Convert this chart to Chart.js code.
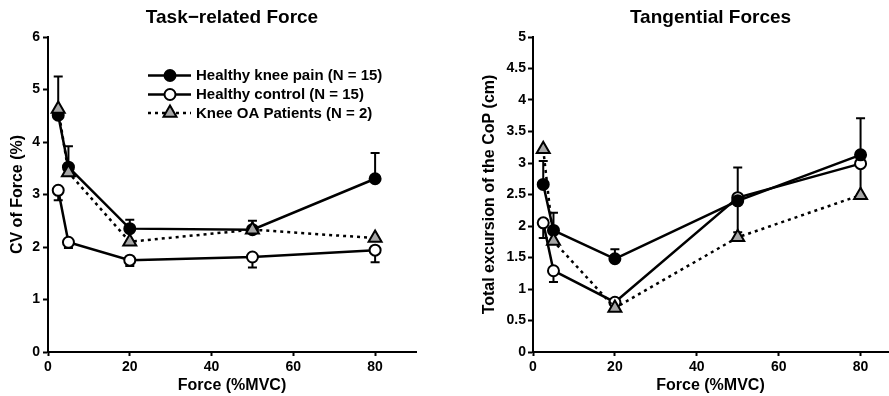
<!DOCTYPE html>
<html>
<head>
<meta charset="utf-8">
<script src="https://cdn.jsdelivr.net/npm/chart.js@4/dist/chart.umd.min.js"></script>
<style>
  html, body { margin: 0; padding: 0; background: #fff; }
  #wrap { position: relative; width: 889px; height: 396px; }
  #c1 { position: absolute; left: 0; top: 0; }
  #c2 { position: absolute; left: 440px; top: 0; }
</style>
</head>
<body>
<div id="wrap">
  <canvas id="c1" width="440" height="396"></canvas>
  <canvas id="c2" width="449" height="396"></canvas>
</div>
<script>
// ---- data ----
const forceLevels = [2.5, 5, 20, 50, 80];
const seriesNames = ["Healthy knee pain (N = 15)", "Healthy control (N = 15)", "Knee OA Patients (N = 2)"];

// Task-related Force: CV of Force (%)
const cvPain = [4.51, 3.52, 2.35, 2.33, 3.30];
const cvPainUpper = [5.25, 3.92, 2.52, 2.50, 3.79];
const cvControl = [3.08, 2.09, 1.75, 1.81, 1.94];
const cvControlLower = [2.89, 1.98, 1.64, 1.61, 1.71];
const cvOA = [4.63, 3.42, 2.10, 2.33, 2.17];

// Tangential Forces: total excursion of the CoP (cm)
const copPain = [2.66, 1.93, 1.48, 2.40, 3.13];
const copPainUpper = [3.03, 2.21, 1.63, 2.93, 3.71];
const copControl = [2.05, 1.29, 0.79, 2.45, 2.99];
const copControlLower = [1.81, 1.11, 0.70, 1.90, 2.50];
const copOA = [3.22, 1.76, 0.70, 1.82, 2.49];

const xTickValues = [0, 20, 40, 60, 80];
const cvYTicks = [0, 1, 2, 3, 4, 5, 6];
const copYTicks = [0, 0.5, 1, 1.5, 2, 2.5, 3, 3.5, 4, 4.5, 5];

// ---- helpers ----
const FONT = "'Liberation Sans', Arial, Helvetica, sans-serif";
const pts = (ys) => forceLevels.map((x, i) => ({ x: x, y: ys[i] }));

function makeDatasets(pain, control, oa) {
  return [
    { label: seriesNames[1], data: pts(control), borderColor: '#000', backgroundColor: '#fff',
      borderWidth: 2.5, pointRadius: 5.5, pointBorderWidth: 2, pointBackgroundColor: '#fff',
      pointBorderColor: '#000', pointStyle: 'circle', tension: 0, order: 3, clip: false },
    { label: seriesNames[0], data: pts(pain), borderColor: '#000', backgroundColor: '#000',
      borderWidth: 2.5, pointRadius: 5.5, pointBorderWidth: 2, pointBackgroundColor: '#000',
      pointBorderColor: '#000', pointStyle: 'circle', tension: 0, order: 2, clip: false },
    { label: seriesNames[2], data: pts(oa), borderColor: '#000', backgroundColor: '#a6a6a6',
      borderWidth: 2.5, borderDash: [3, 4], pointRadius: 7.5, pointBorderWidth: 2,
      pointBackgroundColor: '#a6a6a6', pointBorderColor: '#000', pointStyle: 'triangle',
      tension: 0, order: 1, clip: false }
  ];
}

function errorBarPlugin(pain, painUpper, control, controlLower) {
  return {
    id: 'errbars',
    beforeDatasetsDraw(chart) {
      const ctx = chart.ctx, xs = chart.scales.x, ys = chart.scales.y;
      ctx.save();
      ctx.strokeStyle = '#000';
      ctx.lineWidth = 2;
      const bar = (xv, y0, y1) => {
        const px = xs.getPixelForValue(xv);
        const p0 = ys.getPixelForValue(y0), p1 = ys.getPixelForValue(y1);
        ctx.beginPath();
        ctx.moveTo(px, p0); ctx.lineTo(px, p1);
        ctx.moveTo(px - 4.5, p1); ctx.lineTo(px + 4.5, p1);
        ctx.stroke();
      };
      forceLevels.forEach((x, i) => {
        bar(x, control[i], controlLower[i]);
        bar(x, pain[i], painUpper[i]);
      });
      ctx.restore();
    }
  };
}

function titlePlugin(text) {
  return {
    id: 'ptitle',
    afterDraw(chart) {
      const ctx = chart.ctx, a = chart.chartArea;
      ctx.save();
      ctx.font = 'bold 19px ' + FONT;
      ctx.fillStyle = '#000';
      ctx.textAlign = 'center';
      ctx.textBaseline = 'middle';
      ctx.fillText(text, (a.left + a.right) / 2, 18);
      ctx.restore();
    }
  };
}

const legendPlugin = {
  id: 'mylegend',
  afterDraw(chart) {
    const ctx = chart.ctx;
    const rows = [75.5, 94.5, 113];
    const x0 = 148, x1 = 191, xm = 170, xt = 196;
    ctx.save();
    rows.forEach((y, i) => {
      ctx.strokeStyle = '#000';
      ctx.lineWidth = 2.5;
      ctx.setLineDash(i === 2 ? [3, 4] : []);
      ctx.beginPath(); ctx.moveTo(x0, y); ctx.lineTo(x1, y); ctx.stroke();
      ctx.setLineDash([]);
      ctx.lineWidth = 2;
      if (i < 2) {
        ctx.beginPath(); ctx.arc(xm, y, 5.5, 0, Math.PI * 2);
        ctx.fillStyle = i === 0 ? '#000' : '#fff';
        ctx.fill(); ctx.stroke();
      } else {
        const r = 7.5;
        ctx.beginPath();
        ctx.moveTo(xm, y - r);
        ctx.lineTo(xm + r * 0.866, y + r * 0.5);
        ctx.lineTo(xm - r * 0.866, y + r * 0.5);
        ctx.closePath();
        ctx.fillStyle = '#a6a6a6';
        ctx.fill(); ctx.stroke();
      }
      ctx.fillStyle = '#000';
      ctx.font = 'bold 15px ' + FONT;
      ctx.textAlign = 'left';
      ctx.textBaseline = 'middle';
      ctx.fillText(seriesNames[i], xt, y + 0.5);
    });
    ctx.restore();
  }
};

function makeOptions(cfg) {
  return {
    responsive: false,
    animation: false,
    layout: { autoPadding: false, padding: { left: cfg.padLeft, right: cfg.padRight, top: 37, bottom: 0 } },
    plugins: { legend: { display: false }, title: { display: false }, tooltip: { enabled: false } },
    scales: {
      x: {
        type: 'linear', min: 0, max: cfg.xMax,
        afterBuildTicks(scale) { scale.ticks = xTickValues.map(v => ({ value: v })); },
        afterFit(scale) { scale.height = 44; scale.paddingLeft = 0; scale.paddingRight = 0; },
        ticks: { font: { family: FONT, size: 14, weight: 'bold' }, color: '#000', padding: 3, maxRotation: 0,
          callback: (v) => String(+v) },
        grid: { display: true, drawOnChartArea: false, drawTicks: true, tickLength: 4, tickColor: '#000', tickWidth: 2 },
        border: { display: true, color: '#000', width: 2 },
        title: { display: true, text: 'Force (%MVC)', color: '#000',
          font: { family: FONT, size: 16, weight: 'bold' }, padding: { top: 0, bottom: 1 } }
      },
      y: {
        type: 'linear', min: 0, max: cfg.yMax,
        afterBuildTicks(scale) { scale.ticks = cfg.yTicks.map(v => ({ value: v })); },
        afterFit(scale) { scale.width = cfg.yWidth; scale.paddingTop = 0; scale.paddingBottom = 0; },
        ticks: { font: { family: FONT, size: 14, weight: 'bold' }, color: '#000', padding: cfg.tickPad,
          callback: (v) => String(+v) },
        grid: { display: true, drawOnChartArea: false, drawTicks: true, tickLength: 5, tickColor: '#000', tickWidth: 2 },
        border: { display: true, color: '#000', width: 2 },
        title: { display: true, text: cfg.yTitle, color: '#000',
          font: { family: FONT, size: 16, weight: 'bold' }, padding: { top: 4, bottom: 4 } }
      }
    }
  };
}

new Chart(document.getElementById('c1'), {
  type: 'line',
  data: { datasets: makeDatasets(cvPain, cvControl, cvOA) },
  options: makeOptions({ padLeft: 4, padRight: 24, xMax: 90, yMax: 6, yTicks: cvYTicks,
    yWidth: 44, tickPad: 3, yTitle: 'CV of Force (%)' }),
  plugins: [errorBarPlugin(cvPain, cvPainUpper, cvControl, cvControlLower), titlePlugin('Task\u2212related Force'), legendPlugin]
});

new Chart(document.getElementById('c2'), {
  type: 'line',
  data: { datasets: makeDatasets(copPain, copControl, copOA) },
  options: makeOptions({ padLeft: 36, padRight: 1, xMax: 86.7, yMax: 5, yTicks: copYTicks,
    yWidth: 57, tickPad: 2, yTitle: 'Total excursion of the CoP (cm)' }),
  plugins: [errorBarPlugin(copPain, copPainUpper, copControl, copControlLower), titlePlugin('Tangential Forces')]
});
</script>
</body>
</html>
